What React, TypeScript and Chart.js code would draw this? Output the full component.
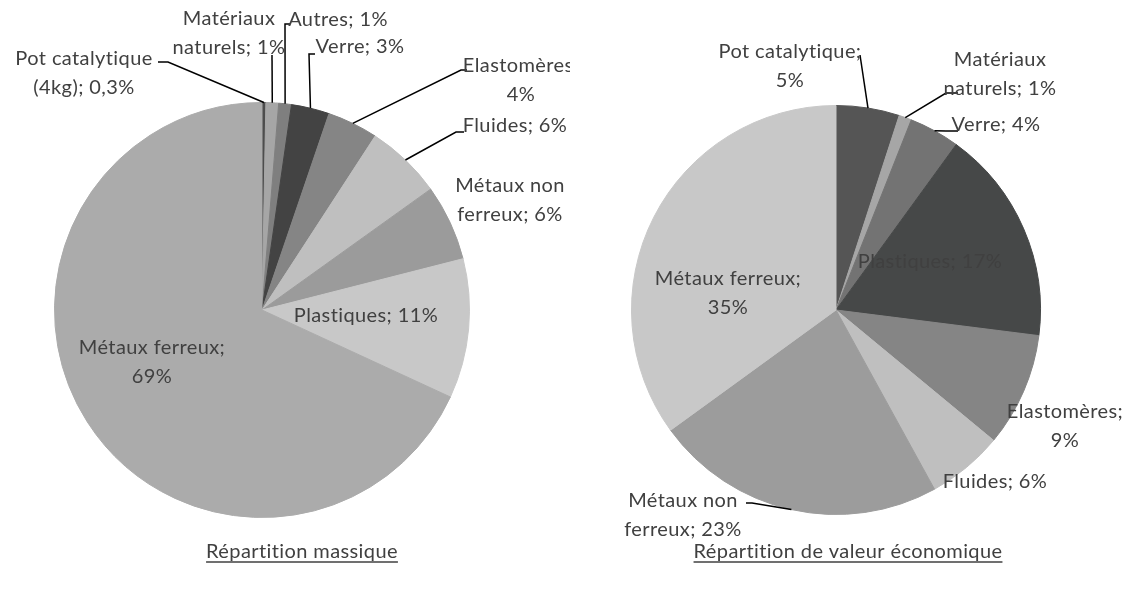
import React, { useEffect, useRef } from "react";
import { Chart, registerables } from "chart.js";

Chart.register(...registerables);

// ---------- DATA ----------
const massCategories = [
  "Pot catalytique (4kg)",
  "Matériaux naturels",
  "Autres",
  "Verre",
  "Elastomères",
  "Fluides",
  "Métaux non ferreux",
  "Plastiques",
  "Métaux ferreux",
];
const massValues = [0.3, 1, 1, 3, 4, 6, 6, 11, 69];

const econCategories = [
  "Pot catalytique",
  "Matériaux naturels",
  "Verre",
  "Plastiques",
  "Elastomères",
  "Fluides",
  "Métaux non ferreux",
  "Métaux ferreux",
];
const econValues = [5, 1, 4, 17, 9, 6, 23, 35];

const chartTitles = ["Répartition massique", "Répartition de valeur économique"];

// ---------- STYLES ----------
const massColors = ["#4d4d4d", "#a6a6a6", "#7f7f7f", "#434343", "#858585", "#bfbfbf", "#9b9b9b", "#c8c8c8", "#ababab"];
const econColors = ["#555555", "#a6a6a6", "#737373", "#464848", "#858585", "#bfbfbf", "#9c9c9c", "#c8c8c8"];

const FONT = "Lato";
const FONT_SIZE = 20;
const LETTER_SPACING = "0.4px";
const LINE_H = 29;
const TEXT_COLOR = "#404040";

type LabelLayout = {
  dx: number;
  dy: number;
  brk: number; // number of words on first line (0 = single line)
  leader?: number[]; // [textSideX, textSideY, kneeX, kneeY] relative to pie centre
};

const massLayout: LabelLayout[] = [
  { dx: -178, dy: -236.5, brk: 2, leader: [-104, -248, -94, -248] },
  { dx: -33, dy: -276.5, brk: 1, leader: [10, -255, 10, -255] },
  { dx: 76, dy: -290, brk: 0, leader: [28, -286, 23, -286] },
  { dx: 98, dy: -263, brk: 0, leader: [53, -256, 47, -256] },
  { dx: 259, dy: -229.5, brk: 1, leader: [205, -240, 199, -240] },
  { dx: 253, dy: -184, brk: 0, leader: [202, -178, 194, -178] },
  { dx: 248, dy: -109.5, brk: 2 },
  { dx: 104, dy: 6, brk: 0 },
  { dx: -110, dy: 52, brk: 2 },
];

const econLayout: LabelLayout[] = [
  { dx: -46, dy: -244, brk: 2, leader: [24, -255, 24, -255] },
  { dx: 164, dy: -235.5, brk: 1, leader: [122, -217, 110, -217] },
  { dx: 160, dy: -185, brk: 0, leader: [122, -179, 110, -179] },
  { dx: 94, dy: -48, brk: 0 },
  { dx: 229, dy: 116, brk: 1 },
  { dx: 159, dy: 172, brk: 0 },
  { dx: -153, dy: 205, brk: 2, leader: [-90, 193, -84, 193] },
  { dx: -108, dy: -16.5, brk: 2 },
];

const fmt = (v: number) => String(v).replace(".", ",");

function labelLines(cat: string, v: number, brk: number): string[] {
  const words = `${cat}; ${fmt(v)}%`.split(" ");
  if (!brk) return [words.join(" ")];
  return [words.slice(0, brk).join(" "), words.slice(brk).join(" ")];
}

const sliceLabelPlugin = {
  id: "sliceLabels",
  afterDraw(chart: any, _args: any, opts: any) {
    const ctx = chart.ctx as any;
    const meta = chart.getDatasetMeta(0);
    const labels: string[] = chart.data.labels;
    const values: number[] = chart.data.datasets[0].data;
    const layout: LabelLayout[] = opts.layout || [];
    ctx.save();
    ctx.font = `${FONT_SIZE}px ${FONT}`;
    ctx.letterSpacing = LETTER_SPACING;
    ctx.textAlign = "center";
    ctx.textBaseline = "middle";
    meta.data.forEach((arc: any, i: number) => {
      const L = layout[i];
      if (!L) return;
      const p = arc.getProps(["x", "y", "startAngle", "endAngle", "outerRadius"], true);
      const cx = p.x, cy = p.y;
      if (L.leader) {
        const mid = (p.startAngle + p.endAngle) / 2;
        const ax = cx + Math.cos(mid) * p.outerRadius;
        const ay = cy + Math.sin(mid) * p.outerRadius;
        ctx.beginPath();
        ctx.strokeStyle = "#000000";
        ctx.lineWidth = 1.5;
        ctx.moveTo(cx + L.leader[0], cy + L.leader[1]);
        ctx.lineTo(cx + L.leader[2], cy + L.leader[3]);
        ctx.lineTo(ax, ay);
        ctx.stroke();
      }
      const lines = labelLines(labels[i], values[i], L.brk);
      ctx.fillStyle = TEXT_COLOR;
      const top = cy + L.dy - ((lines.length - 1) * LINE_H) / 2;
      lines.forEach((ln, k) => ctx.fillText(ln, cx + L.dx, top + k * LINE_H));
    });
    if (opts.title) {
      const t = opts.title;
      ctx.fillStyle = TEXT_COLOR;
      ctx.textBaseline = "alphabetic";
      ctx.fillText(t.text, t.x, t.y);
      const w = ctx.measureText(t.text).width;
      ctx.beginPath();
      ctx.strokeStyle = TEXT_COLOR;
      ctx.lineWidth = 1.5;
      ctx.moveTo(t.x - w / 2, t.y + 4);
      ctx.lineTo(t.x + w / 2, t.y + 4);
      ctx.stroke();
    }
    ctx.restore();
  },
};

function PieCanvas(props: {
  left: number;
  width: number;
  categories: string[];
  values: number[];
  colors: string[];
  layout: LabelLayout[];
  padding: { left: number; right: number; top: number; bottom: number };
  title: { text: string; x: number; y: number };
}) {
  const ref = useRef<HTMLCanvasElement>(null);
  useEffect(() => {
    if (!ref.current) return;
    const chart = new Chart(ref.current, {
      type: "pie",
      data: {
        labels: props.categories,
        datasets: [
          {
            data: props.values,
            backgroundColor: props.colors,
            borderColor: props.colors,
            borderWidth: 1,
            hoverOffset: 0,
            offset: 0,
          },
        ],
      },
      options: {
        responsive: false,
        animation: false,
        events: [],
        layout: { padding: props.padding },
        plugins: {
          legend: { display: false },
          tooltip: { enabled: false },
          title: { display: false },
          // @ts-ignore
          sliceLabels: { layout: props.layout, title: props.title },
        },
      },
      plugins: [sliceLabelPlugin],
    } as any);
    return () => chart.destroy();
  }, []);
  return (
    <canvas
      ref={ref}
      width={props.width}
      height={590}
      style={{ position: "absolute", left: props.left, top: 0, width: props.width, height: 590 }}
    />
  );
}

export default function App() {
  return (
    <div style={{ position: "absolute", left: 0, top: 0, width: 1136, height: 590, background: "#ffffff", overflow: "hidden" }}>
      <PieCanvas
        left={0}
        width={570}
        categories={massCategories}
        values={massValues}
        colors={massColors}
        layout={massLayout}
        padding={{ left: 54, right: 100, top: 102, bottom: 72 }}
        title={{ text: chartTitles[0], x: 302, y: 558 }}
      />
      <PieCanvas
        left={568}
        width={568}
        categories={econCategories}
        values={econValues}
        colors={econColors}
        layout={econLayout}
        padding={{ left: 63, right: 95, top: 105, bottom: 75 }}
        title={{ text: chartTitles[1], x: 280, y: 558 }}
      />
    </div>
  );
}
